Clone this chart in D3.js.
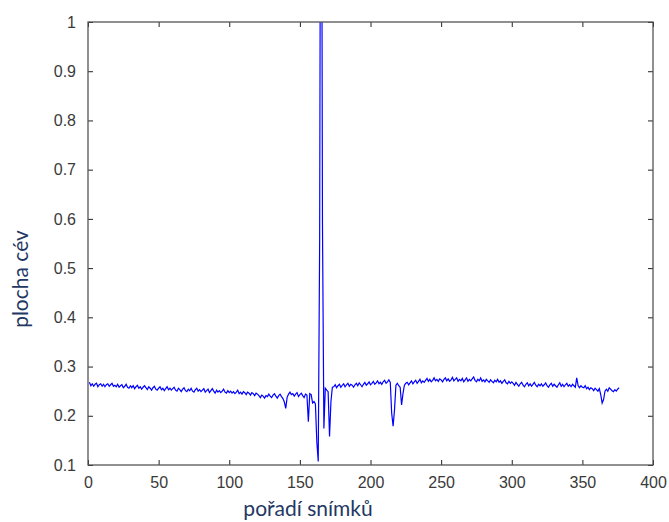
<!DOCTYPE html>
<html>
<head>
<meta charset="utf-8">
<script src="https://cdn.jsdelivr.net/npm/d3@7"></script>
<style>
  body { margin: 0; background: #fff; }
  svg { display: block; }
</style>
</head>
<body>
<div id="chart"></div>
<script>
// plocha cév per frame (frame index = position + 1)
const areaValues = [
  0.268,0.261,0.265,0.260,0.264,0.266,0.259,0.263,0.265,0.260,
  0.264,0.259,0.263,0.265,0.260,0.263,0.266,0.260,0.262,0.259,
  0.264,0.258,0.261,0.263,0.257,0.260,0.264,0.258,0.256,0.261,
  0.257,0.261,0.255,0.259,0.262,0.256,0.259,0.254,0.258,0.261,
  0.257,0.253,0.259,0.256,0.252,0.257,0.260,0.254,0.252,0.256,
  0.259,0.253,0.256,0.251,0.255,0.259,0.253,0.256,0.252,0.255,
  0.258,0.252,0.250,0.256,0.253,0.249,0.254,0.257,0.251,0.249,
  0.254,0.251,0.256,0.250,0.248,0.253,0.256,0.250,0.253,0.249,
  0.252,0.255,0.248,0.251,0.254,0.247,0.251,0.255,0.250,0.246,
  0.252,0.248,0.251,0.247,0.250,0.254,0.248,0.246,0.251,0.247,
  0.250,0.246,0.249,0.245,0.248,0.252,0.245,0.248,0.244,0.249,
  0.247,0.243,0.248,0.246,0.242,0.247,0.245,0.241,0.246,0.244,
  0.241,0.237,0.242,0.240,0.236,0.241,0.239,0.244,0.240,0.237,
  0.242,0.245,0.240,0.236,0.241,0.244,0.239,0.235,0.228,0.215,
  0.238,0.244,0.248,0.243,0.245,0.240,0.244,0.247,0.239,0.243,
  0.246,0.241,0.237,0.244,0.242,
  0.188,0.245,0.243,0.226,0.229,0.224,0.147,0.107,0.554,1.9,
  0.588,0.174,0.256,0.252,0.249,0.158,0.229,0.258,
  0.259,0.263,0.257,0.261,0.264,0.258,0.262,0.265,0.259,0.263,
  0.266,0.260,0.264,0.262,0.258,0.263,0.266,
  0.261,0.267,0.263,0.259,0.264,0.268,0.262,0.265,0.269,0.263,
  0.266,0.270,0.264,0.267,0.271,0.265,0.268,0.264,0.269,0.272,
  0.266,0.269,0.273,0.268,
  0.205,0.179,0.212,0.262,0.266,0.261,0.258,0.222,0.245,0.262,0.266,
  0.268,0.263,0.267,0.271,0.265,
  0.269,0.272,0.266,0.270,0.274,0.267,0.271,0.268,0.272,0.276,
  0.270,0.274,0.269,0.272,0.277,0.271,0.274,0.270,0.275,0.273,
  0.269,0.274,0.277,0.271,0.275,0.270,0.273,0.278,0.271,0.274,
  0.277,0.270,0.274,0.271,0.276,0.269,0.273,0.277,0.270,0.274,
  0.271,0.275,0.279,0.272,0.269,0.274,0.271,0.277,0.270,0.273,
  0.269,0.274,0.271,0.268,0.273,0.270,0.267,0.272,0.269,0.274,
  0.268,0.271,0.266,0.270,0.273,0.267,0.265,0.270,0.266,0.269,
  0.266,0.262,0.268,0.264,0.260,0.265,0.268,0.262,0.259,0.264,
  0.267,0.261,0.265,0.260,0.264,0.268,0.262,0.259,0.264,0.261,
  0.265,0.260,0.263,0.267,0.261,0.258,0.263,0.266,0.260,0.264,
  0.261,0.258,0.263,0.267,0.260,0.264,0.259,0.263,0.266,0.260,
  0.263,0.259,0.264,0.261,0.258,0.277,0.261,0.257,0.261,0.258,
  0.257,0.261,0.255,0.258,0.253,0.257,0.255,0.251,0.256,0.253,
  0.250,0.255,0.243,0.226,0.233,0.250,0.254,0.250,0.257,0.254,
  0.251,0.249,0.253,0.250,0.254,0.257
];
const xTicks = [0, 50, 100, 150, 200, 250, 300, 350, 400];
const yTicks = [0.1, 0.2, 0.3, 0.4, 0.5, 0.6, 0.7, 0.8, 0.9, 1];
const xLabel = "pořadí snímků";
const yLabel = "plocha cév";

const width = 669;
const height = 522;
const margin = { top: 22, right: 16, bottom: 57, left: 88 };
const inner = { w: width - margin.left - margin.right, h: height - margin.top - margin.bottom };

const svg = d3.select("#chart").append("svg")
  .attr("width", width).attr("height", height);

const g = svg.append("g").attr("transform", `translate(${margin.left},${margin.top})`);

const x = d3.scaleLinear().domain([0, 400]).range([0, inner.w]);
const y = d3.scaleLinear().domain([0.1, 1]).range([inner.h, 0]);

const tickFont = "'Liberation Sans', Arial, sans-serif";
const labelFont = "Lato, 'Open Sans', sans-serif";

// Data line, clipped to the axes box like MATLAB does.
g.append("clipPath").attr("id", "plot-clip")
  .append("rect").attr("width", inner.w).attr("height", inner.h);

const line = d3.line()
  .x((d, i) => x(i + 1))
  .y(d => y(d));

g.append("path")
  .datum(areaValues)
  .attr("clip-path", "url(#plot-clip)")
  .attr("fill", "none")
  .attr("stroke", "#0000ff")
  .attr("stroke-width", 1.2)
  .attr("d", line);

// Axes, ticks pointing inward on all four sides.
function styleAxis(sel, labels) {
  sel.select(".domain").remove();
  sel.selectAll(".tick line").attr("stroke", "#222");
  sel.selectAll(".tick text")
    .attr("fill", "#3a3a3a")
    .attr("font-family", tickFont)
    .attr("font-size", "16px");
  if (!labels) sel.selectAll(".tick text").remove();
}

g.append("g").attr("transform", `translate(0,${inner.h})`)
  .call(d3.axisBottom(x).tickValues(xTicks).tickSize(-5).tickPadding(12).tickFormat(d3.format("d")))
  .call(s => styleAxis(s, true));

g.append("g")
  .call(d3.axisTop(x).tickValues(xTicks).tickSize(-5))
  .call(s => styleAxis(s, false));

g.append("g")
  .call(d3.axisLeft(y).tickValues(yTicks).tickSize(-5).tickPadding(12).tickFormat(d => d3.format(".1~f")(d)))
  .call(s => styleAxis(s, true));

g.append("g").attr("transform", `translate(${inner.w},0)`)
  .call(d3.axisRight(y).tickValues(yTicks).tickSize(-5))
  .call(s => styleAxis(s, false));

// Axes box.
g.append("rect")
  .attr("width", inner.w).attr("height", inner.h)
  .attr("fill", "none").attr("stroke", "#555").attr("stroke-width", 1.3);

// Axis labels.
svg.append("text")
  .attr("x", 308).attr("y", 516)
  .attr("text-anchor", "middle")
  .attr("font-family", labelFont).attr("font-size", "21px")
  .attr("fill", "#1f3864")
  .text(xLabel);

svg.append("text")
  .attr("transform", "translate(28,279) rotate(-90)")
  .attr("text-anchor", "middle")
  .attr("font-family", labelFont).attr("font-size", "21px")
  .attr("fill", "#1f3864")
  .text(yLabel);
</script>
</body>
</html>
